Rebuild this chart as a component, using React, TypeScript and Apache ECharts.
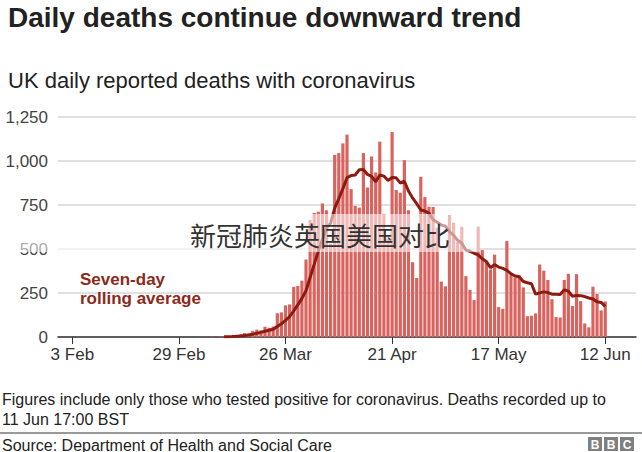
import React, { useEffect, useRef } from 'react';
import * as echarts from 'echarts';

// Daily categories span 31 Jan 2020 .. 19 Jun 2020
const startDate = Date.UTC(2020, 0, 31);
const dayCount = 141;
const monthNames = ['Jan', 'Feb', 'Mar', 'Apr', 'May', 'Jun'];
const tickLabels = ['3 Feb', '29 Feb', '26 Mar', '21 Apr', '17 May', '12 Jun'];
const yTicks = [0, 250, 500, 750, 1000, 1250];

// UK daily reported deaths (by date reported)
const marchDeaths = [0, 0, 0, 0, 1, 1, 1, 2, 1, 3, 3, 2, 4, 12, 15, 22, 20, 35, 42, 38, 58, 52, 60, 135, 140, 180, 185, 285, 290, 320, 440];
const aprilDeaths = [665, 705, 712, 758, 720, 530, 1035, 1045, 1100, 1150, 840, 745, 735, 1045, 850, 1025, 935, 1110, 700, 560, 1165, 835, 820, 1005, 720, 425, 335, 910, 795, 740];
const mayDeaths = [739, 621, 315, 288, 693, 649, 539, 626, 346, 268, 210, 627, 494, 428, 384, 468, 170, 160, 545, 363, 338, 351, 282, 118, 121, 134, 412, 377, 324, 215, 113];
const juneDeaths = [111, 324, 359, 176, 357, 204, 77, 55, 286, 245, 151, 202];

const marchStartIndex = 30; // 1 Mar
const rollingStartIndex = 40; // 11 Mar, seventh day after the first reported death

const FONT = '"Liberation Sans", Arial, Helvetica, sans-serif';

export default function App() {
  const ref = useRef<HTMLDivElement>(null);

  useEffect(() => {
    if (!ref.current) return;
    const chart = echarts.init(ref.current, undefined, { renderer: 'svg' });

    const categories: string[] = [];
    for (let i = 0; i < dayCount; i++) {
      const d = new Date(startDate + i * 86400000);
      categories.push(`${d.getUTCDate()} ${monthNames[d.getUTCMonth()]}`);
    }
    const all = [...marchDeaths, ...aprilDeaths, ...mayDeaths, ...juneDeaths];
    const raw: number[] = new Array(dayCount).fill(0);
    all.forEach((v, i) => { raw[marchStartIndex + i] = v; });
    const lastIndex = marchStartIndex + all.length - 1;
    const bars = raw.map((v, i) => (i <= lastIndex && v > 0 ? v : null));
    const rolling = raw.map((_, i) => {
      if (i < rollingStartIndex || i > lastIndex) return null;
      let s = 0;
      for (let k = i - 6; k <= i; k++) s += raw[k];
      return Math.round((s / 7) * 10) / 10;
    });

    const showIdx = (_i: number, value: string) => tickLabels.includes(value);

    const logoLetters = ['B', 'B', 'C'];
    const logo: any[] = [];
    logoLetters.forEach((l, i) => {
      logo.push({ type: 'rect', shape: { x: 588 + i * 16, y: 437, width: 14, height: 14 }, style: { fill: '#808080' } });
      logo.push({ type: 'text', x: 595 + i * 16, y: 444.5, style: { text: l, font: `bold 12px ${FONT}`, fill: '#fff', align: 'center', verticalAlign: 'middle' } });
    });

    chart.setOption({
      animation: false,
      backgroundColor: '#fff',
      grid: { left: 58, top: 117, width: 578, height: 220, containLabel: false },
      xAxis: {
        type: 'category',
        data: categories,
        boundaryGap: true,
        axisLine: { show: true, lineStyle: { color: '#333', width: 1.5 } },
        axisTick: { show: true, interval: showIdx, alignWithLabel: true, length: 7, lineStyle: { color: '#333', width: 1 } },
        axisLabel: { interval: showIdx, color: '#333', fontSize: 17, fontFamily: FONT, margin: 9 },
        splitLine: { show: false },
      },
      yAxis: {
        type: 'value',
        min: yTicks[0],
        max: yTicks[yTicks.length - 1],
        interval: 250,
        axisLine: { show: false },
        axisTick: { show: false },
        axisLabel: {
          color: '#444', fontSize: 17, fontFamily: FONT, margin: 10,
          formatter: (v: number) => v.toLocaleString('en-US'),
        },
        splitLine: { show: true, lineStyle: { color: '#d6d6d6', width: 1.5 } },
      },
      series: [
        {
          type: 'bar',
          data: bars,
          barCategoryGap: '22%',
          itemStyle: { color: '#d9645f' },
          z: 2,
        },
        {
          type: 'line',
          data: rolling,
          showSymbol: false,
          symbol: 'none',
          connectNulls: false,
          lineStyle: { color: '#8e1b10', width: 3 },
          z: 3,
        },
      ],
      graphic: [
        { type: 'text', x: 8, y: 17, style: { text: 'Daily deaths continue downward trend', font: `bold 28px ${FONT}`, fill: '#222', verticalAlign: 'middle' } },
        { type: 'text', x: 8, y: 80, style: { text: 'UK daily reported deaths with coronavirus', font: `22px ${FONT}`, fill: '#222', verticalAlign: 'middle' } },
        { type: 'text', x: 80, y: 279, z: 10, style: { text: 'Seven-day', font: `bold 17px ${FONT}`, fill: '#8b2a1a', verticalAlign: 'middle' } },
        { type: 'text', x: 80, y: 298, z: 10, style: { text: 'rolling average', font: `bold 17px ${FONT}`, fill: '#8b2a1a', verticalAlign: 'middle' } },
        { type: 'rect', shape: { x: 0, y: 214, width: 480, height: 38 }, z: 20, style: { fill: 'rgba(255,255,255,0.55)' } },
        { type: 'text', x: 190, y: 234, z: 21, style: { text: '新冠肺炎英国美国对比', font: '26px "Noto Sans CJK SC", sans-serif', fill: '#333', verticalAlign: 'middle' } },
        { type: 'text', x: 2, y: 399, style: { text: 'Figures include only those who tested positive for coronavirus. Deaths recorded up to', font: `16px ${FONT}`, fill: '#222', verticalAlign: 'middle' } },
        { type: 'text', x: 2, y: 419, style: { text: '11 Jun 17:00 BST', font: `16px ${FONT}`, fill: '#222', verticalAlign: 'middle' } },
        { type: 'line', shape: { x1: 0, y1: 433, x2: 642, y2: 433 }, style: { stroke: '#999', lineWidth: 2 } },
        { type: 'text', x: 2, y: 445, style: { text: 'Source: Department of Health and Social Care', font: `16px ${FONT}`, fill: '#222', verticalAlign: 'middle' } },
        ...logo,
      ],
    });

    return () => chart.dispose();
  }, []);

  return (
    <div
      ref={ref}
      style={{ position: 'fixed', left: 0, top: 0, width: 642, height: 452, background: '#fff' }}
    />
  );
}
